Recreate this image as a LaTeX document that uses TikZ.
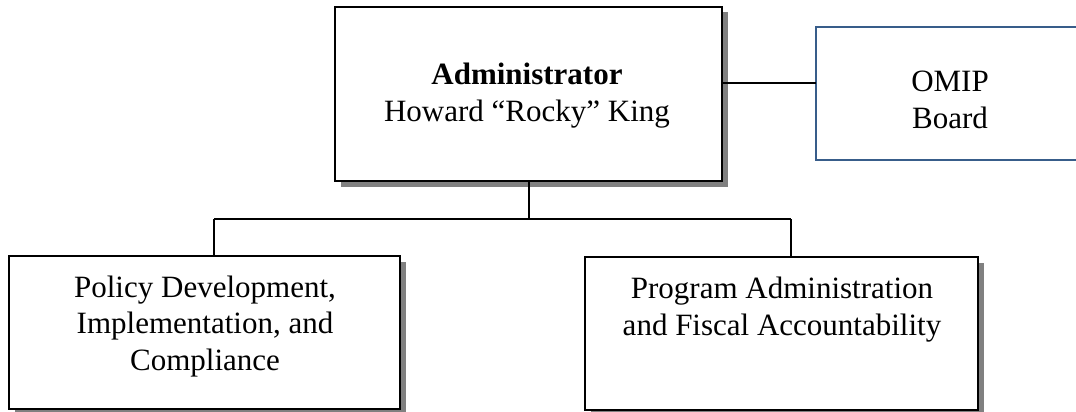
\documentclass[tikz,border=0pt]{standalone}
\usepackage{fontspec}
\setmainfont{Liberation Serif}
\usetikzlibrary{shadows}
\definecolor{omipblue}{RGB}{56,93,138}
\definecolor{shadowgray}{RGB}{128,128,128}
\tikzset{
  orgbox/.style={draw=black, line width=2.6pt, fill=white, inner sep=0pt,
    drop shadow={shadow xshift=5.5pt, shadow yshift=-5.5pt, fill=shadowgray, opacity=1}},
  boardbox/.style={draw=omipblue, line width=1.6pt, fill=white, inner sep=0pt},
  lbl/.style={font=\fontsize{31}{36.5}\selectfont, align=center, inner sep=0pt, anchor=base},
  conn/.style={draw=black, line width=1.1pt}
}
\begin{document}
\begin{tikzpicture}[x=1pt,y=1pt]
\clip (0,0) rectangle (1076,-412);
\fill[white] (0,0) rectangle (1076,-412);
% boxes
\node[orgbox, minimum width=387pt, minimum height=174pt] (admin) at (528.5,-94) {};
\node[boardbox, minimum width=268pt, minimum height=133pt] (omip) at (950,-93.5) {};
\node[orgbox, minimum width=391pt, minimum height=153pt] (policy) at (204.5,-332.5) {};
\node[orgbox, minimum width=393pt, minimum height=153pt] (program) at (781.5,-333.5) {};
% texts (base anchor = baseline of the last line)
\node[lbl] (admintxt) at (527,-121) {\textbf{Administrator}\\Howard “Rocky” King};
\node[lbl] (omiptxt) at (950,-128) {OMIP\\Board};
\node[lbl] (policytxt) at (205,-370) {Policy Development,\\Implementation, and\\Compliance};
\node[lbl] (programtxt) at (782,-335) {Program Administration\\and Fiscal Accountability};
% connector coordinates
\coordinate (omipL) at (816,-83);
\coordinate (bus) at (529,-219);
\coordinate (busL) at (214,-219);
\coordinate (busR) at (791,-219);
% connectors
\draw[conn] (admin.east |- omipL) -- (omipL);
\draw[conn] (admin.south -| bus) -- (bus);
\draw[conn] (busL) -- (busR);
\draw[conn] (busL) -- (busL |- policy.north);
\draw[conn] (busR) -- (busR |- program.north);
\end{tikzpicture}
\end{document}
